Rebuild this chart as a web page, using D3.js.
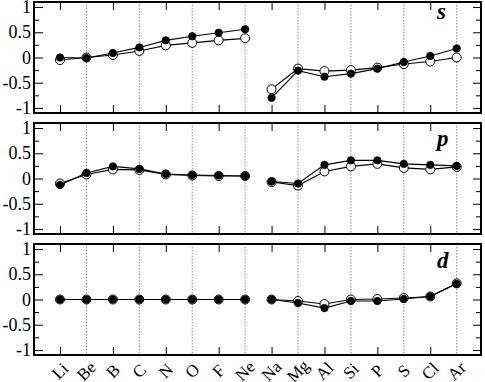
<!DOCTYPE html>
<html>
<head>
<meta charset="utf-8">
<script src="https://cdn.jsdelivr.net/npm/d3@7"></script>
<style>
  body { margin: 0; background: #fff; }
  svg { display: block; }
</style>
</head>
<body>
<div id="chart"></div>
<script>
var elements = ["Li", "Be", "B", "C", "N", "O", "F", "Ne", "Na", "Mg", "Al", "Si", "P", "S", "Cl", "Ar"];
var panelNames = ["s", "p", "d"];
var yTickLabels = [-1, -0.5, 0, 0.5, 1];

// filled circles
var sFilled = [0.00, -0.01, 0.09, 0.20, 0.34, 0.42, 0.49, 0.56, -0.80, -0.26, -0.38, -0.32, -0.22, -0.09, 0.03, 0.18];
var pFilled = [-0.13, 0.11, 0.24, 0.19, 0.09, 0.07, 0.06, 0.05, -0.06, -0.10, 0.27, 0.36, 0.36, 0.29, 0.27, 0.25];
var dFilled = [0, 0, 0, 0, 0, 0, 0, 0, 0, -0.07, -0.17, -0.03, -0.03, 0.01, 0.06, 0.31];
// open circles
var sOpen = [-0.05, 0.00, 0.05, 0.13, 0.24, 0.29, 0.34, 0.38, -0.63, -0.22, -0.27, -0.25, -0.20, -0.13, -0.08, 0.00];
var pOpen = [-0.10, 0.08, 0.18, 0.17, 0.08, 0.06, 0.05, 0.05, -0.07, -0.14, 0.14, 0.24, 0.29, 0.21, 0.18, 0.23];
var dOpen = [0, 0, 0, 0, 0, 0, 0, 0, 0, -0.03, -0.09, 0.00, 0.01, 0.03, 0.06, 0.32];

var filledSets = [sFilled, pFilled, dFilled];
var openSets = [sOpen, pOpen, dOpen];

var FONT = "Liberation Serif";

var svgWidth = 485;
var svgHeight = 382;
var left = 34, right = 481;
var panelTop = [2, 123, 244];
var panelHeight = 111;
var nameOffset = [17, 23, 24];

var svg = d3.select("#chart").append("svg")
  .attr("width", svgWidth)
  .attr("height", svgHeight)
  .attr("font-family", FONT);

// x scale over element index
var x = d3.scaleLinear()
  .domain([0, 15])
  .range([60, 456.7]);

var idx = d3.range(elements.length);

function noDomain(a) { a.select(".domain").remove(); }

panelNames.forEach(function(name, p) {
  var top = panelTop[p];
  var bottom = top + panelHeight;
  var y = d3.scaleLinear().domain([-1.1, 1.1]).range([bottom, top]);
  var g = svg.append("g");

  // dotted gridlines at every other element
  g.selectAll(".grid")
    .data(idx.filter(function(i) { return i % 2 === 1; }))
    .enter().append("line")
    .attr("x1", function(i) { return x(i); })
    .attr("x2", function(i) { return x(i); })
    .attr("y1", top)
    .attr("y2", bottom)
    .attr("stroke", "#888")
    .attr("stroke-width", 1)
    .attr("stroke-dasharray", "1.5,1.5");

  // x ticks (inward, top and bottom)
  var evens = idx.filter(function(i) { return i % 2 === 0; });
  g.append("g")
    .attr("transform", "translate(0," + bottom + ")")
    .call(d3.axisBottom(x).tickValues(evens).tickSize(-8).tickFormat(""))
    .call(noDomain);
  g.append("g")
    .attr("transform", "translate(0," + top + ")")
    .call(d3.axisTop(x).tickValues(evens).tickSize(-8).tickFormat(""))
    .call(noDomain);

  // y ticks, major and minor, both sides
  var minor = [-0.75, -0.25, 0.25, 0.75];
  g.append("g")
    .attr("transform", "translate(" + left + ",0)")
    .call(d3.axisLeft(y).tickValues(yTickLabels).tickSize(-9).tickFormat(""))
    .call(noDomain);
  g.append("g")
    .attr("transform", "translate(" + left + ",0)")
    .call(d3.axisLeft(y).tickValues(minor).tickSize(-5).tickFormat(""))
    .call(noDomain);
  g.append("g")
    .attr("transform", "translate(" + right + ",0)")
    .call(d3.axisRight(y).tickValues(yTickLabels).tickSize(-8).tickFormat(""))
    .call(noDomain);
  g.append("g")
    .attr("transform", "translate(" + right + ",0)")
    .call(d3.axisRight(y).tickValues(minor).tickSize(-5).tickFormat(""))
    .call(noDomain);
  g.selectAll(".tick line").attr("stroke", "#000").attr("stroke-width", 1);

  // y tick labels
  g.selectAll(".ylab")
    .data(yTickLabels)
    .enter().append("text")
    .attr("x", left - 3)
    .attr("y", function(d) { return y(d) + 6; })
    .attr("text-anchor", "end")
    .attr("font-family", FONT)
    .attr("font-size", 18)
    .attr("fill", "#000")
    .text(function(d) { return String(d); });

  // frame
  g.append("rect")
    .attr("x", left)
    .attr("y", top)
    .attr("width", right - left)
    .attr("height", panelHeight)
    .attr("fill", "none")
    .attr("stroke", "#000")
    .attr("stroke-width", 2);

  var line = d3.line()
    .x(function(d) { return x(d.i); })
    .y(function(d) { return y(d.v); });

  function drawSeries(values, filled) {
    var pts = values.map(function(v, i) { return { i: i, v: v }; });
    // second-row and third-row elements are separate lines
    [pts.slice(0, 8), pts.slice(8)].forEach(function(seg) {
      g.append("path")
        .attr("d", line(seg))
        .attr("fill", "none")
        .attr("stroke", "#000")
        .attr("stroke-width", 1.1);
    });
    g.selectAll(null)
      .data(pts)
      .enter().append("circle")
      .attr("cx", function(d) { return x(d.i); })
      .attr("cy", function(d) { return y(d.v); })
      .attr("r", filled ? 3.7 : 4.5)
      .attr("fill", filled ? "#000" : "#fff")
      .attr("stroke", "#000")
      .attr("stroke-width", filled ? 0.8 : 1);
  }

  drawSeries(openSets[p], false);
  drawSeries(filledSets[p], true);

  // panel name
  g.append("text")
    .attr("x", 437)
    .attr("y", top + nameOffset[p])
    .attr("font-family", FONT)
    .attr("font-size", 23)
    .attr("font-weight", "bold")
    .attr("font-style", "italic")
    .attr("fill", "#000")
    .text(name);
});

// element labels under the bottom panel, rotated 45 degrees
var c = Math.SQRT1_2;
svg.append("g").selectAll("text")
  .data(elements)
  .enter().append("text")
  .attr("transform", function(d, i) {
    return "matrix(" + c + "," + (-c) + "," + c + "," + c + "," + (x(i) + 4) + ",375)";
  })
  .attr("text-anchor", "middle")
  .attr("font-family", FONT)
  .attr("font-size", 17)
  .attr("fill", "#000")
  .text(function(d) { return d; });
</script>
</body>
</html>
